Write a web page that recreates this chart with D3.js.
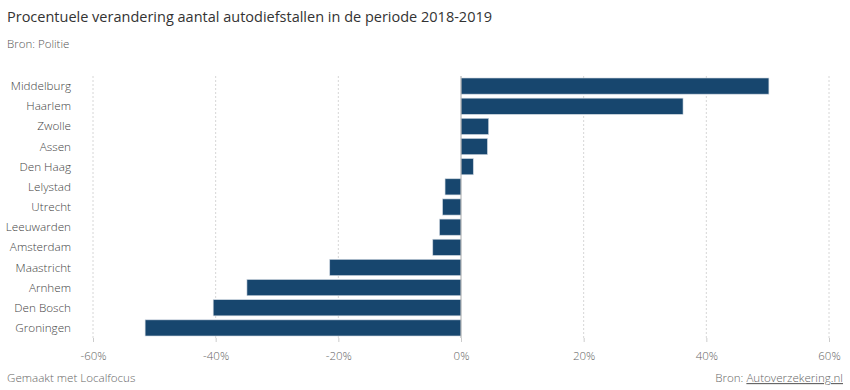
<!DOCTYPE html>
<html><head><meta charset="utf-8">
<script src="https://cdn.jsdelivr.net/npm/d3@7"></script>
<style>
body{margin:0;background:#fff;font-family:"Open Sans",sans-serif;}
svg{display:block;}
</style></head>
<body>
<svg id="c" width="850" height="390"></svg>
<script>
const cities = ["Middelburg","Haarlem","Zwolle","Assen","Den Haag","Lelystad","Utrecht","Leeuwarden","Amsterdam","Maastricht","Arnhem","Den Bosch","Groningen"];
const changes = [50.2, 36.2, 4.5, 4.3, 2.0, -2.6, -3.0, -3.5, -4.6, -21.4, -34.9, -40.4, -51.5];
const ticks = [-60,-40,-20,0,20,40,60];
const title = "Procentuele verandering aantal autodiefstallen in de periode 2018-2019";
const subtitle = "Bron: Politie";
const footLeft = "Gemaakt met Localfocus";

const svg = d3.select("#c");
const x = d3.scaleLinear().domain([-60,60]).range([93,829]);
const y = d3.scaleBand().domain(cities).range([76,338]).paddingInner(0.2).paddingOuter(0.1);

svg.append("text").attr("x",7).attr("y",22).attr("font-size",14.5).attr("fill","#333").text(title);
svg.append("text").attr("x",7).attr("y",48).attr("font-size",11.5).attr("font-weight",300).attr("fill","#555").text(subtitle);

// grid
svg.append("g").selectAll("line").data(ticks.filter(t=>t!==0)).join("line")
  .attr("x1",d=>x(d)).attr("x2",d=>x(d)).attr("y1",76).attr("y2",338)
  .attr("stroke","#d6d6d6").attr("stroke-dasharray","2,2");

// bars
svg.append("g").selectAll("rect").data(cities).join("rect")
  .attr("x",(d,i)=>x(Math.min(0,changes[i])))
  .attr("width",(d,i)=>Math.abs(x(changes[i])-x(0)))
  .attr("y",d=>y(d)).attr("height",y.bandwidth())
  .attr("fill","#17466e").attr("stroke","#c9d3dd").attr("stroke-width",0.6);

// zero line
svg.append("line").attr("x1",x(0)).attr("x2",x(0)).attr("y1",76).attr("y2",338).attr("stroke","#aaa");

// category labels
svg.append("g").selectAll("text").data(cities).join("text")
  .attr("x",71).attr("y",d=>y(d)+y.bandwidth()/2).attr("dy","0.35em")
  .attr("text-anchor","end").attr("font-size",11.7).attr("font-weight",300).attr("fill","#444").text(d=>d);

// x axis
const ax = svg.append("g").attr("transform","translate(0,338)")
  .call(d3.axisBottom(x).tickValues(ticks).tickSize(4).tickFormat(d=>d+"%"));
ax.select(".domain").remove();
ax.selectAll("line").attr("stroke","#ccc");
ax.selectAll("text").attr("font-family","Open Sans").attr("font-size",11.5).attr("font-weight",300).attr("fill","#666").attr("dy","1.3em");

svg.append("text").attr("x",7).attr("y",382).attr("font-size",11.6).attr("font-weight",300).attr("fill","#666").text(footLeft);
const ft = svg.append("text").attr("x",843).attr("y",382).attr("text-anchor","end").attr("font-size",11.6).attr("font-weight",300).attr("fill","#666");
ft.append("tspan").text("Bron:  ");
ft.append("tspan").attr("text-decoration","underline").text("Autoverzekering.nl");
</script>
</body></html>
